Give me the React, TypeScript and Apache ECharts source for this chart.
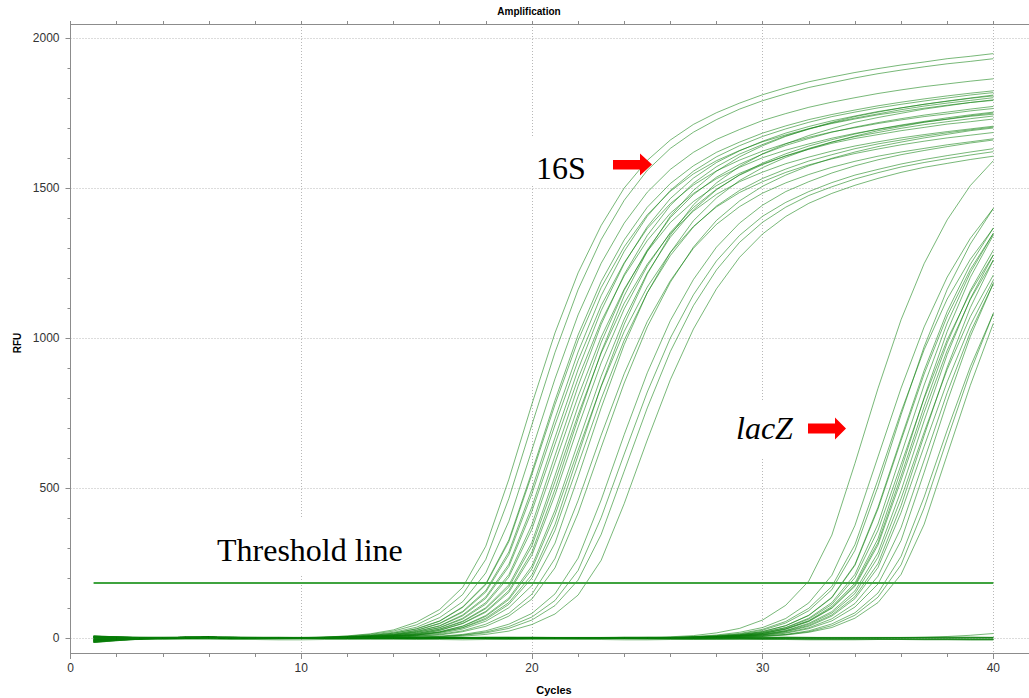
import React, { useEffect, useRef } from "react";
import * as echarts from "echarts";

const CYCLES = [1,2,3,4,5,6,7,8,9,10,11,12,13,14,15,16,17,18,19,20,21,22,23,24,25,26,27,28,29,30,31,32,33,34,35,36,37,38,39,40];
const THRESHOLD_RFU = 183;
const THRESHOLD_CYCLES = [1, 40];

const RFU_16S: number[][] = [
  [-14,-8,-3,0,1,2,1,0,1, 2,3,7,14,27,53,95,169,306,529,780,1017,1217,1375,1500,1592,1660,1712,1751,1783,1811,1834,1854,1870,1885,1898,1910,1920,1931,1939,1948],
  [-6,-3,-1,1,2,2,1,1,0, 1,3,6,12,23,44,82,145,262,465,711,952,1161,1328,1459,1559,1632,1686,1728,1763,1791,1814,1835,1851,1867,1881,1893,1904,1914,1922,1931],
  [3,2,1,0,1,2,1,0,0, 1,2,5,10,19,36,68,121,217,389,627,864,1077,1249,1383,1486,1562,1619,1662,1695,1725,1748,1769,1786,1801,1815,1827,1838,1847,1856,1864],
  [-10,-5,-2,0,1,1,1,0,0, 1,2,4,8,16,31,57,104,181,327,554,792,1010,1188,1327,1436,1515,1574,1619,1653,1683,1707,1728,1745,1760,1774,1786,1797,1807,1816,1824],
  [5,3,1,1,2,2,1,1,0, 1,2,4,8,16,30,56,102,178,321,545,778,992,1168,1304,1411,1489,1547,1591,1625,1654,1677,1698,1715,1730,1744,1755,1766,1776,1785,1792],
  [-12,-6,-2,0,1,2,2,1,0,0, 2,3,7,13,26,49,89,158,287,496,731,953,1141,1289,1406,1492,1556,1604,1641,1672,1697,1719,1738,1753,1767,1779,1790,1800,1810,1818],
  [1,0,0,1,2,3,2,1,0,0, 2,3,7,12,25,48,86,153,278,481,710,925,1108,1251,1365,1448,1510,1557,1593,1623,1648,1669,1687,1701,1715,1727,1738,1747,1757,1765],
  [-8,-4,-1,0,1,1,1,0,-1,0, 1,3,6,11,22,41,77,137,246,437,668,895,1091,1248,1371,1465,1533,1585,1624,1656,1683,1705,1724,1740,1755,1767,1779,1789,1799,1807],
  [6,3,1,1,2,2,1,0,0,0, 1,3,6,10,21,40,74,132,238,423,646,865,1055,1207,1325,1416,1482,1531,1569,1601,1626,1647,1666,1682,1696,1708,1720,1729,1739,1746],
  [-4,-2,0,1,2,2,1,1,0,0, 1,2,5,10,19,35,66,118,211,378,608,839,1045,1212,1342,1442,1516,1571,1613,1645,1674,1696,1717,1733,1747,1761,1773,1783,1792,1801],
  [-15,-9,-4,-1,0,1,1,0,0,0, 1,2,5,9,18,34,63,113,203,363,584,805,1003,1163,1289,1385,1455,1508,1549,1580,1607,1629,1649,1665,1678,1691,1702,1713,1721,1730],
  [2,1,1,1,2,2,1,0,0,0, 1,2,4,8,15,30,56,101,177,319,541,773,985,1159,1294,1401,1478,1536,1579,1613,1642,1665,1686,1703,1718,1731,1743,1753,1763,1772],
  [-7,-3,-1,0,1,2,1,1,0,-1, 1,2,4,7,15,29,54,98,170,307,521,744,949,1116,1246,1349,1423,1479,1521,1553,1581,1603,1623,1640,1654,1667,1678,1688,1697,1706],
  [4,2,1,1,2,2,1,1,0,0,1, 2,3,7,13,26,49,89,158,287,496,731,953,1141,1289,1406,1492,1556,1604,1641,1672,1697,1719,1738,1753,1767,1779,1790,1800,1810],
  [-11,-6,-2,0,1,1,1,0,0,0,0, 2,3,7,12,25,48,86,152,276,477,703,917,1097,1240,1352,1435,1496,1543,1578,1607,1632,1653,1671,1685,1699,1711,1721,1731,1740],
  [0,0,0,1,2,3,2,1,0,0,0, 1,3,6,10,20,39,72,128,230,410,626,838,1022,1170,1285,1372,1437,1485,1521,1552,1577,1597,1615,1630,1644,1656,1667,1676,1685],
  [-9,-5,-2,0,1,1,1,0,0,0,0, 1,3,6,11,21,40,75,133,240,426,651,872,1063,1217,1336,1427,1494,1544,1583,1614,1640,1661,1680,1696,1710,1722,1734,1744,1753],
  [7,4,2,1,2,2,1,0,0,0,0, 1,2,5,9,18,34,62,112,200,359,578,797,993,1151,1275,1370,1440,1492,1532,1563,1590,1611,1631,1647,1660,1673,1684,1694,1703],
  [-3,-1,0,1,1,2,1,1,0,0,0, 1,2,5,10,19,35,66,118,211,378,609,840,1046,1213,1343,1444,1517,1572,1614,1647,1675,1698,1719,1735,1749,1763,1774,1785,1794],
  [-13,-7,-3,-1,0,1,1,0,0,0,0, 1,2,4,8,15,30,56,101,175,316,537,767,978,1151,1285,1391,1467,1525,1568,1602,1630,1653,1673,1691,1705,1719,1730,1741,1750],
  [3,2,1,1,2,2,1,1,0,0,0,1, 2,3,6,12,24,46,82,146,265,458,676,881,1055,1191,1299,1379,1438,1483,1517,1545,1569,1589,1606,1620,1632,1644,1654,1664],
  [-5,-2,-1,0,1,2,1,0,0,0,0,0, 1,3,6,10,21,39,73,130,234,416,635,850,1037,1186,1303,1392,1457,1506,1543,1574,1599,1620,1638,1653,1667,1679,1691,1700],
  [1,1,0,1,2,2,1,1,0,0,0,0,1, 2,3,6,12,24,46,82,147,266,460,678,884,1058,1195,1303,1383,1443,1488,1521,1550,1574,1594,1611,1625,1638,1650,1660],
  [-9,-4,-2,0,1,1,1,0,0,-1,0,0,0, 1,3,5,10,20,38,70,125,225,401,613,820,1000,1144,1257,1342,1406,1452,1488,1518,1543,1562,1580,1595,1608,1620,1631],
  [5,3,1,1,2,2,1,0,0,0,0,0,0, 1,2,4,9,17,32,60,108,193,345,556,767,955,1108,1227,1319,1386,1436,1475,1504,1530,1551,1570,1585,1598,1610,1621],
  [-2,-1,0,1,1,2,1,1,0,0,0,0,0,1, 2,3,6,12,23,45,80,143,259,448,660,861,1030,1164,1269,1347,1405,1449,1482,1509,1532,1552,1569,1582,1595,1606],
];

const RFU_LACZ: number[][] = [
  [-12,-6,-2,0,1,2,1,1,0,0,0,1,1,0,0,0,1,1,0,0,0,0,1, 1,2,4,8,17,32,60,109,190,343,582,832,1061,1248,1394,1508,1591],
  [4,2,1,1,2,2,1,0,0,0,0,0,1,1,0,0,0,0,1,0,0,0,0,0, 1,2,5,10,19,35,65,117,209,375,604,833,1037,1203,1332,1432],
  [-7,-3,-1,0,1,1,1,0,0,-1,0,0,0,1,0,0,0,0,0,0,1,0,0,0, 1,2,4,8,15,29,55,99,172,311,528,754,961,1130,1262,1366],
  [0,0,1,1,2,3,2,1,0,0,0,0,1,1,0,0,-1,0,0,0,0,1,0,0,0, 2,3,7,13,26,50,91,161,292,505,744,971,1162,1313,1432],
  [-15,-9,-4,-1,0,1,1,0,0,0,0,0,0,1,1,0,0,0,0,0,0,0,1,0,0, 1,3,6,11,21,41,75,134,242,430,658,880,1073,1228,1349],
  [6,3,1,1,2,2,1,1,0,0,0,1,0,0,0,0,1,0,0,0,0,0,0,0,0, 1,3,6,11,22,41,76,136,245,436,666,892,1088,1245,1367],
  [-5,-2,-1,0,1,2,1,0,0,0,0,0,0,0,1,1,0,0,0,0,1,0,0,0,0, 1,2,5,10,19,35,66,118,212,380,611,843,1050,1218,1349],
  [2,1,0,1,1,2,2,1,0,0,0,0,1,0,0,0,0,0,1,0,0,0,0,0,0, 1,2,5,9,18,34,63,112,201,359,578,798,994,1152,1277],
  [-10,-5,-2,0,1,1,1,0,0,0,-1,0,0,0,0,1,0,0,0,0,0,0,0,1,0, 1,2,4,8,15,30,56,101,177,318,540,772,984,1158,1293],
  [3,2,1,1,2,2,1,0,0,0,0,0,0,1,0,0,0,0,0,1,0,0,0,0,0, 1,2,4,8,15,29,55,99,172,310,526,752,959,1128,1260],
  [-8,-4,-1,0,1,1,1,1,0,0,0,0,0,0,1,0,0,0,0,0,0,1,0,0,0,0, 2,3,7,13,25,49,88,157,284,491,724,945,1131,1277],
  [1,1,1,1,2,2,1,0,0,0,0,1,0,0,0,0,0,0,1,0,0,0,0,0,0,0, 2,3,6,12,24,46,83,148,269,465,686,895,1071,1210],
  [-13,-7,-3,-1,0,1,1,0,0,0,0,0,1,0,0,0,0,0,0,0,1,0,0,0,0,0, 1,3,6,10,21,39,73,131,235,418,639,854,1042,1193],
  [5,3,1,1,2,2,1,1,0,0,0,0,0,0,0,1,0,0,0,0,0,0,0,1,0,0, 1,3,6,11,22,42,77,138,248,441,675,903,1101,1260],
  [-6,-3,-1,0,1,2,1,1,0,0,0,0,0,1,0,0,0,0,0,0,0,0,1,0,0,0, 1,2,5,10,18,34,64,115,206,368,593,818,1019,1182],
  [0,0,0,1,1,2,2,1,0,0,0,0,0,0,0,0,1,1,0,0,0,0,0,0,0,0, 1,2,4,8,16,31,57,103,180,325,552,788,1005,1182],
  [-11,-6,-2,0,1,1,1,0,0,0,0,0,0,0,0,1,0,0,0,0,0,0,0,0,1,0,0, 2,3,7,12,24,47,84,150,272,470,693,904,1082],
  [2,1,1,1,2,2,1,0,0,0,0,0,1,0,0,0,0,0,0,0,0,0,0,1,0,0,0, 1,3,6,11,21,41,76,136,244,434,663,887,1082],
  [-4,-2,0,1,1,2,1,1,0,0,0,0,0,0,0,0,0,1,0,0,0,0,0,0,0,0,0, 1,2,5,10,19,35,66,118,212,379,611,842,1049],
  [-9,-4,-1,0,1,1,1,1,0,0,0,0,0,0,0,0,0,0,1,0,0,0,0,0,0, 1,2,4,8,16,31,58,105,183,331,561,802,1022,1202,1343],
];

const RFU_NTC: number[][] = [
  [-14,-8,-3,-1,0,1,1,1,0,0, 0,0,0,-1,0,0,0,0,0,1, 0,0,0,0,0,0,-1,0,0,0, 0,0,0,0,0,0,1,0,0,0],
  [3,2,1,1,2,2,2,1,0,0, 0,0,0,0,0,1,1,0,0,0, 0,0,0,0,0,1,0,0,0,0, 1,0,0,0,0,0,0,0,1,1],
  [-9,-5,-2,0,1,1,1,0,0,-1, -1,0,0,0,0,0,0,0,-1,-1, -1,-1,-2,-2,-2,-2,-3,-3,-3,-3, -3,-4,-4,-4,-4,-4,-5,-5,-5,-5],
  [6,3,1,1,1,2,1,1,0,0, 0,0,1,1,0,0,0,0,0,0, 0,0,1,1,0,0,0,0,0,0, 0,0,0,0,1,1,0,0,0,0],
  [-5,-2,-1,0,1,1,1,0,0,0, 0,0,0,0,0,0,0,0,0,0, 0,0,0,0,0,0,0,0,0,0, 0,0,0,0,0,1,2,5,9,15],
  [-3,-1,0,0,1,2,1,1,0,0, -1,0,0,0,0,0,0,0,0,0, -1,-1,-1,-2,-2,-2,-2,-3,-3,-3, -3,-3,-4,-4,-4,-4,-4,-4,-5,-5],
  [-8,-6,-5,-5,-4,-4,-5,-5,-6,-6, -5,-5,-4,-4,-5,-5,-6,-5,-5,-4, -4,-5,-5,-6,-6,-5,-5,-4,-4,-5, -5,-6,-6,-6,-5,-5,-6,-6,-7,-7],
  [-11,-5,-3,-3,-2,-2,-3,-3,-3,-2, -2,-2,-3,-3,-3,-2,-2,-2,-3,-3, -3,-2,-2,-2,-3,-3,-3,-3,-2,-2, -2,-3,-3,-3,-3,-4,-4,-4,-4,-4],
  [7,4,3,3,3,4,4,3,3,2, 2,3,3,3,2,2,2,3,3,3, 2,2,2,3,3,2,2,2,2,3, 3,2,2,2,2,2,3,3,3,2],
  [1,2,2,2,3,3,2,2,1,1, 1,1,2,2,1,1,1,2,2,1, 1,1,1,2,2,1,1,1,1,1, 2,2,1,1,1,1,1,2,2,2],
];

const CURVE_COLOR = "rgba(10,125,10,0.55)";
const AXIS_COLOR = "#8c8c8c";
const GRID_COLOR = "#b8b8b8";
const SANS = '"Liberation Sans", Arial, sans-serif';
const SERIF = '"Liberation Serif", "Times New Roman", serif';

export default function App() {
  const ref = useRef<HTMLDivElement>(null);
  useEffect(() => {
    if (!ref.current) return;
    const chart = echarts.init(ref.current, null, { renderer: "svg" });
    const curve = (arr: number[], name: string) => ({
      type: "line",
      name,
      xAxisIndex: 0,
      yAxisIndex: 0,
      data: CYCLES.map((c, i) => [c, arr[i]]),
      showSymbol: false,
      symbol: "none",
      silent: true,
      lineStyle: { width: 1, color: CURVE_COLOR },
      emphasis: { disabled: true },
      z: 3,
    });
    const series: any[] = [];
    RFU_NTC.forEach((a, i) => series.push(curve(a, "NTC " + (i + 1))));
    RFU_LACZ.forEach((a, i) => series.push(curve(a, "lacZ " + (i + 1))));
    RFU_16S.forEach((a, i) => series.push(curve(a, "16S " + (i + 1))));
    series.push({
      type: "line",
      name: "Threshold",
      xAxisIndex: 0,
      yAxisIndex: 0,
      data: THRESHOLD_CYCLES.map((c) => [c, THRESHOLD_RFU]),
      showSymbol: false,
      symbol: "none",
      silent: true,
      lineStyle: { width: 2, color: "#3fa33f" },
      z: 4,
    });

    const XMAX = 41.61;
    const tickStyle = { color: AXIS_COLOR, width: 1 };
    const option: any = {
      animation: false,
      textStyle: { fontFamily: SANS },
      grid: [
        { left: 70.5, top: 24, width: 960, height: 629, outerBoundsMode: "none", containLabel: false },
        { left: 70.5, top: 38, width: 960, height: 600, outerBoundsMode: "none", containLabel: false },
      ],
      xAxis: [
        {
          gridIndex: 0, type: "value", position: "bottom", min: 0, max: XMAX, interval: 10,
          axisLine: { show: true, onZero: false, lineStyle: { color: AXIS_COLOR } },
          axisTick: { show: true, length: 6, lineStyle: tickStyle },
          axisLabel: {
            show: true, fontSize: 12, color: "#333", margin: 9,
            formatter: (v: number) => (v % 10 === 0 && v <= 40 ? String(v) : ""),
          },
          splitLine: { show: true, lineStyle: { color: GRID_COLOR, type: [1, 2], width: 1 } },
        },
        {
          gridIndex: 0, type: "value", position: "bottom", min: 0, max: XMAX, interval: 2,
          axisLine: { show: false, onZero: false },
          axisTick: { show: true, length: 4, lineStyle: tickStyle },
          axisLabel: { show: false },
          splitLine: { show: false },
        },
        {
          gridIndex: 0, type: "value", position: "top", min: 0, max: XMAX, interval: 2,
          axisLine: { show: true, onZero: false, lineStyle: { color: AXIS_COLOR } },
          axisTick: { show: true, length: 3, lineStyle: tickStyle },
          axisLabel: { show: false },
          splitLine: { show: false },
        },
        { gridIndex: 1, type: "value", min: 0, max: XMAX, show: false },
      ],
      yAxis: [
        {
          gridIndex: 0, type: "value", min: -50, max: 2046.67,
          axisLine: { show: true, onZero: false, lineStyle: { color: AXIS_COLOR } },
          axisTick: { show: false },
          axisLabel: { show: false },
          splitLine: { show: false },
        },
        {
          gridIndex: 1, type: "value", min: 0, max: 2000, interval: 500,
          axisLine: { show: true, onZero: false, lineStyle: { color: AXIS_COLOR } },
          axisTick: { show: true, length: 5, lineStyle: tickStyle },
          minorTick: { show: true, splitNumber: 5, length: 3, lineStyle: tickStyle },
          axisLabel: { show: true, fontSize: 12, color: "#333", margin: 11, formatter: (v: number) => String(v) },
          splitLine: { show: true, lineStyle: { color: GRID_COLOR, type: [1, 2], width: 1 } },
        },
      ],
      graphic: [
        { type: "text", x: 529, y: 11, z: 100, silent: true,
          style: { text: "Amplification", font: `bold 10px ${SANS}`, fill: "#000", textAlign: "center", textVerticalAlign: "middle", align: "center", verticalAlign: "middle" } },
        { type: "text", x: 17, y: 343, rotation: Math.PI / 2, z: 100, silent: true,
          style: { text: "RFU", font: `bold 10px ${SANS}`, fill: "#000", textAlign: "center", textVerticalAlign: "middle", align: "center", verticalAlign: "middle" } },
        { type: "text", x: 554, y: 690, z: 100, silent: true,
          style: { text: "Cycles", font: `bold 11px ${SANS}`, fill: "#000", textAlign: "center", textVerticalAlign: "middle", align: "center", verticalAlign: "middle" } },
        { type: "rect", z: 50, silent: true, shape: { x: 527, y: 138, width: 66, height: 48 }, style: { fill: "#fff" } },
        { type: "rect", z: 50, silent: true, shape: { x: 211, y: 517, width: 197, height: 58 }, style: { fill: "#fff" } },
        { type: "rect", z: 50, silent: true, shape: { x: 731, y: 400, width: 69, height: 57 }, style: { fill: "#fff" } },
        { type: "text", x: 536, y: 168, z: 101, silent: true,
          style: { text: "16S", font: `32px ${SERIF}`, fill: "#000", textAlign: "left", textVerticalAlign: "middle", align: "left", verticalAlign: "middle" } },
        { type: "text", x: 217, y: 550, z: 101, silent: true,
          style: { text: "Threshold line", font: `32px ${SERIF}`, fill: "#000", textAlign: "left", textVerticalAlign: "middle", align: "left", verticalAlign: "middle" } },
        { type: "text", x: 736, y: 428, z: 101, silent: true,
          style: { text: "lacZ", font: `italic 32px ${SERIF}`, fill: "#000", textAlign: "left", textVerticalAlign: "middle", align: "left", verticalAlign: "middle" } },
        { type: "polygon", z: 101, silent: true,
          shape: { points: [[613, 160], [640, 160], [640, 153.5], [652, 164.5], [640, 175.5], [640, 169.5], [613, 169.5]] },
          style: { fill: "#ff0000" } },
        { type: "polygon", z: 101, silent: true,
          shape: { points: [[808, 423.5], [835, 423.5], [835, 417.5], [846, 428.5], [835, 439.5], [835, 433.5], [808, 433.5]] },
          style: { fill: "#ff0000" } },
      ],
      series,
    };
    chart.setOption(option);
    return () => chart.dispose();
  }, []);
  return (
    <div
      ref={ref}
      style={{ position: "absolute", left: 0, top: 0, width: 1029, height: 698, background: "#fff" }}
    />
  );
}
